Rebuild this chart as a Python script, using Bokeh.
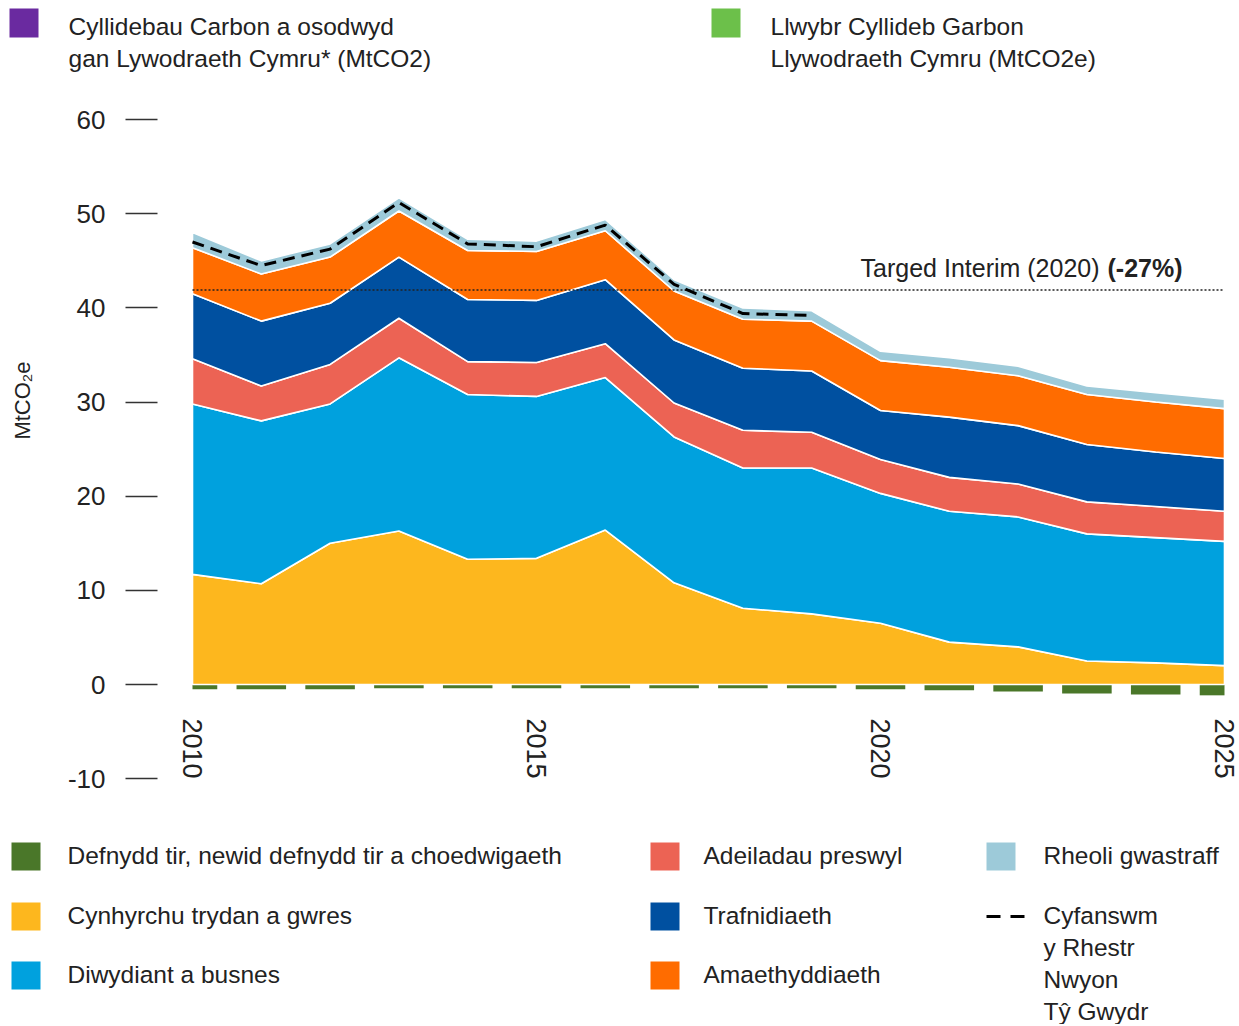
import numpy as np
from math import pi
from bokeh.plotting import figure
from bokeh.models import Range1d, FixedTicker, Label
from bokeh.embed import file_html
from bokeh.resources import INLINE
from bokeh.core.properties import value

# ---------------- data ----------------
years = list(range(2010, 2026))
electricity = [11.7, 10.7, 15.0, 16.3, 13.3, 13.4, 16.4, 10.8, 8.1, 7.5, 6.5, 4.5, 4.0, 2.5, 2.3, 2.0]
industry = [18.1, 17.3, 14.8, 18.4, 17.5, 17.2, 16.2, 15.5, 14.9, 15.5, 13.8, 13.9, 13.8, 13.5, 13.3, 13.2]
buildings = [4.8, 3.7, 4.2, 4.2, 3.5, 3.6, 3.6, 3.6, 4.0, 3.8, 3.6, 3.6, 3.5, 3.4, 3.3, 3.2]
transport = [6.9, 6.9, 6.5, 6.5, 6.6, 6.6, 6.8, 6.7, 6.6, 6.5, 5.2, 6.4, 6.2, 6.1, 5.8, 5.6]
agriculture = [4.9, 5.0, 4.9, 4.9, 5.2, 5.2, 5.2, 5.2, 5.2, 5.3, 5.3, 5.3, 5.3, 5.3, 5.3, 5.3]
waste = [1.6, 1.4, 1.4, 1.4, 1.2, 1.1, 1.2, 1.2, 1.2, 1.1, 1.0, 1.0, 1.0, 0.9, 1.0, 1.0]
land_use = [-0.5, -0.5, -0.5, -0.4, -0.4, -0.4, -0.4, -0.4, -0.4, -0.4, -0.5, -0.6, -0.75, -0.95, -1.05, -1.15]
total_years = list(range(2010, 2020))
total_inventory = [47.0, 44.5, 46.25, 51.2, 46.8, 46.5, 48.8, 42.5, 39.4, 39.2]
interim_target = 41.9
x_tick_years = [2010, 2015, 2020, 2025]
y_ticks = [-10, 0, 10, 20, 30, 40, 50, 60]

sector_series = [electricity, industry, buildings, transport, agriculture, waste]
sector_colors = ["#FDB71E", "#00A1DE", "#EC6354", "#0050A0", "#FF6C00", "#9DCAD9"]
land_color = "#4A7729"

legend_top = [
    (["Cyllidebau Carbon a osodwyd", "gan Lywodraeth Cymru* (MtCO2)"], "#6A2AA0"),
    (["Llwybr Cyllideb Garbon", "Llywodraeth Cymru (MtCO2e)"], "#6CC04A"),
]
legend_bottom = [
    ("Defnydd tir, newid defnydd tir a choedwigaeth", land_color),
    ("Cynhyrchu trydan a gwres", "#FDB71E"),
    ("Diwydiant a busnes", "#00A1DE"),
    ("Adeiladau preswyl", "#EC6354"),
    ("Trafnidiaeth", "#0050A0"),
    ("Amaethyddiaeth", "#FF6C00"),
    ("Rheoli gwastraff", "#9DCAD9"),
]
total_label_lines = ["Cyfanswm", "y Rhestr", "Nwyon", "Tŷ Gwydr"]

FONT = value("Liberation Sans")
TXT = "#222222"

# ---------------- geometry (layout only) ----------------
W, H = 1238, 1024
PX_YEAR = 68.8          # pixels per year
X2010 = 192             # pixel column of 2010
Y0 = 684                # pixel row of zero
PX_UNIT = 659 / 70      # pixels per MtCO2e

p = figure(width=W, height=H,
           x_range=Range1d(2010 - X2010 / PX_YEAR, 2010 + (W - X2010) / PX_YEAR),
           y_range=Range1d(-(H - Y0) / PX_UNIT, Y0 / PX_UNIT),
           toolbar_location=None, output_backend="svg", min_border=0,
           outline_line_color=None)
p.grid.visible = False
p.extra_x_ranges = {"px": Range1d(0, W)}
p.extra_y_ranges = {"py": Range1d(H, 0)}

# ---------------- chart ----------------
yrs = np.array(years, dtype=float)
land = np.array(land_use)
half_w = 0.36
p.quad(left=np.maximum(yrs - half_w, yrs[0]), right=np.minimum(yrs + half_w, yrs[-1]),
       top=np.zeros_like(land), bottom=land, color=land_color, line_color=None)

bottom = np.zeros(len(years))
for vals, col in zip(sector_series, sector_colors):
    top = bottom + np.array(vals)
    xs = list(yrs) + list(yrs[::-1])
    ys = list(top) + list(bottom[::-1])
    p.patch(xs, ys, fill_color=col, line_color="white", line_width=1.6)
    bottom = top

p.line([years[0], years[-1]], [interim_target, interim_target], line_color="#222222",
       line_width=1.5, line_dash="2 2")
p.line(total_years, total_inventory, line_color="black", line_width=3, line_dash="12 7")

p.add_layout(Label(x=2019.71, y=interim_target + 2.3, text="Targed Interim (2020)",
                   text_font="Liberation Sans", text_font_size="25px", text_color=TXT,
                   text_baseline="middle", text_align="left"))
p.add_layout(Label(x=2023.30, y=interim_target + 2.3, text="(-27%)",
                   text_font="Liberation Sans", text_font_size="25px", text_color=TXT,
                   text_font_style="bold", text_baseline="middle", text_align="left"))

# y axis, fixed inside the canvas
ya = p.yaxis[0]
ya.fixed_location = 2010 - 35 / PX_YEAR
ya.ticker = FixedTicker(ticks=y_ticks)
ya.major_label_overrides = {t: str(t) for t in y_ticks}
ya.axis_line_color = None
ya.major_tick_in = 0
ya.major_tick_out = 32
ya.major_tick_line_color = "#333333"
ya.major_tick_line_width = 1.5
ya.minor_tick_line_color = None
ya.major_label_standoff = 20
ya.major_label_text_font = "Liberation Sans"
ya.major_label_text_font_size = "26px"
ya.major_label_text_color = TXT

p.add_layout(Label(x=22, y=400, x_range_name="px", y_range_name="py", text="MtCO₂e",
                   angle=pi / 2, text_align="center", text_baseline="middle",
                   text_font="Liberation Sans", text_font_size="22px", text_color=TXT))

# x axis (labels below the zero line)
xa = p.xaxis[0]
xa.fixed_location = 0
xa.ticker = FixedTicker(ticks=x_tick_years)
xa.axis_line_color = None
xa.major_tick_line_color = None
xa.major_tick_in = 0
xa.major_tick_out = 0
xa.minor_tick_line_color = None
xa.major_label_orientation = "vertical"
xa.major_label_standoff = 34
xa.major_label_text_font = "Liberation Sans"
xa.major_label_text_font_size = "27px"
xa.major_label_text_color = TXT

# ---------------- top legend (pixel coordinates) ----------------
for i, (lines, col) in enumerate(legend_top):
    x0 = [9, 711][i]
    p.quad(left=[x0], right=[x0 + 29], top=[8], bottom=[37], color=col, line_color=None,
           x_range_name="px", y_range_name="py")
    p.text(x=[x0 + 59] * len(lines), y=[26, 58][:len(lines)], text=lines,
           text_font=FONT, text_font_size="24.5px", text_baseline="middle", text_color=TXT,
           x_range_name="px", y_range_name="py")

# ---------------- bottom legend (pixel coordinates) ----------------
col_sq = [11, 650, 986]
col_tx = [67, 703, 1043]
row_y = [856, 916, 975]
for i, (lab, col) in enumerate(legend_bottom):
    c, r = divmod(i, 3)
    p.quad(left=[col_sq[c]], right=[col_sq[c] + 29], top=[row_y[r] - 14], bottom=[row_y[r] + 14],
           color=col, line_color=None, x_range_name="px", y_range_name="py")
    p.text(x=[col_tx[c]], y=[row_y[r] - 1], text=[lab], text_font=FONT, text_font_size="24.5px",
           text_baseline="middle", text_color=TXT, x_range_name="px", y_range_name="py")
p.line([986, 1025], [916, 916], line_color="black", line_width=3, line_dash="14 10",
       x_range_name="px", y_range_name="py")
p.text(x=[1043] * 4, y=[915, 947, 979, 1011], text=total_label_lines, text_font=FONT,
       text_font_size="24.5px", text_baseline="middle", text_color=TXT,
       x_range_name="px", y_range_name="py")

open("out.html", "w").write(file_html(p, INLINE))
